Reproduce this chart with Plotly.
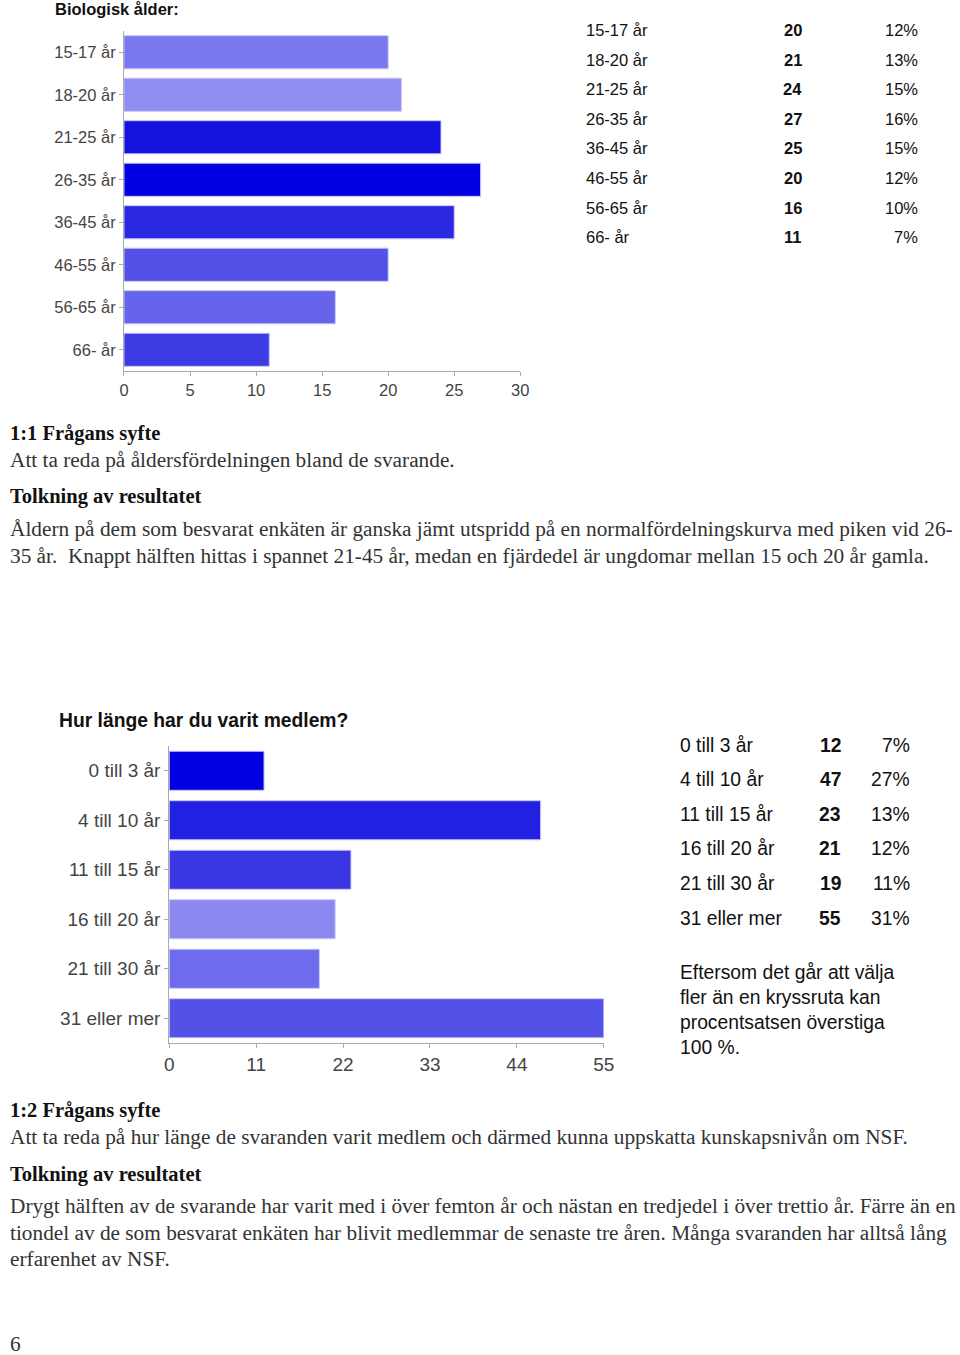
import plotly.graph_objects as go

W, H = 960, 1355

# ---------------- data ----------------
age_labels = ["15-17 år", "18-20 år", "21-25 år", "26-35 år", "36-45 år", "46-55 år", "56-65 år", "66- år"]
age_counts = [20, 21, 24, 27, 25, 20, 16, 11]
age_pct = ["12%", "13%", "15%", "16%", "15%", "12%", "10%", "7%"]
age_colors = ["#7a78ee", "#8f8cf2", "#1512e0", "#0000e0", "#2b28e2", "#5250e6", "#6664ea", "#3d3be4"]
age_ticks = [0, 5, 10, 15, 20, 25, 30]

mem_labels = ["0 till 3 år", "4 till 10 år", "11 till 15 år", "16 till 20 år", "21 till 30 år", "31 eller mer"]
mem_counts = [12, 47, 23, 21, 19, 55]
mem_pct = ["7%", "27%", "13%", "12%", "11%", "31%"]
mem_colors = ["#0000e0", "#2220e2", "#3937e4", "#8b88f0", "#6e6cec", "#5452e6"]
mem_ticks = [0, 11, 22, 33, 44, 55]


def fx(p):
    return p / W


def fy(p):
    return 1 - p / H


SANS = "Liberation Sans, Arial, sans-serif"
SERIF = "Liberation Serif, Times New Roman, serif"

fig = go.Figure()

fig.add_trace(go.Bar(
    y=age_labels, x=age_counts, orientation="h", width=0.78,
    marker=dict(color=age_colors, line=dict(color="#c9c8f7", width=1)),
    xaxis="x", yaxis="y", showlegend=False, hoverinfo="x+y"))

fig.add_trace(go.Bar(
    y=mem_labels, x=mem_counts, orientation="h", width=0.79,
    marker=dict(color=mem_colors, line=dict(color="#c9c8f7", width=1)),
    xaxis="x2", yaxis="y2", showlegend=False, hoverinfo="x+y"))

axis_common = dict(showline=True, linecolor="#aaaaaa", linewidth=1, ticks="outside",
                   ticklen=4, tickcolor="#aaaaaa", showgrid=False, zeroline=False)

layout = dict(
    width=W, height=H, autosize=False,
    margin=dict(l=0, r=0, t=0, b=0),
    paper_bgcolor="white", plot_bgcolor="white",
    xaxis=dict(domain=[fx(121), fx(524)], range=[0, 30], tickvals=age_ticks,
               anchor="y", tickfont=dict(family=SANS, size=16.5, color="#444"), **axis_common),
    yaxis=dict(domain=[fy(371), fy(31)], autorange="reversed", anchor="x",
               tickfont=dict(family=SANS, size=16.5, color="#444"), **axis_common),
    xaxis2=dict(domain=[fx(167), fx(609)], range=[0, 55], tickvals=mem_ticks,
                anchor="y2", tickfont=dict(family=SANS, size=19, color="#444"), **axis_common),
    yaxis2=dict(domain=[fy(1043), fy(746)], autorange="reversed", anchor="x2",
                tickfont=dict(family=SANS, size=19, color="#444"), **axis_common),
    bargap=0.2,
)
fig.update_layout(**layout)

ann = []


def text(x, y, s, size, family=SANS, bold=False, anchor="left", color="#111"):
    if bold:
        s = "<b>" + s + "</b>"
    ann.append(dict(x=fx(x), y=fy(y), xref="paper", yref="paper", text=s, showarrow=False,
                    xanchor=anchor, yanchor="middle",
                    font=dict(family=family, size=size, color=color)))


# chart titles
text(49, 9, "Biologisk ålder:", 16.5, bold=True)
text(53, 720, "Hur länge har du varit medlem?", 19.3, bold=True)

# table 1
row0, pitch = 30, 29.6
for i, (lab, c, p) in enumerate(zip(age_labels, age_counts, age_pct)):
    yy = row0 + i * pitch
    text(589, yy, lab, 16.5)
    text(801, yy, str(c), 16.5, bold=True, anchor="center")
    text(931, yy, p, 16.5, anchor="right")

# table 2
row0, pitch = 745, 34.6
for i, (lab, c, p) in enumerate(zip(mem_labels, mem_counts, mem_pct)):
    yy = row0 + i * pitch
    text(684, yy, lab, 19.3)
    text(839, yy, str(c), 19.3, bold=True, anchor="center")
    text(922, yy, p, 19.3, anchor="right")

note = ["Eftersom det går att välja", "fler än en kryssruta kan", "procentsatsen överstiga", "100 %."]
for i, s in enumerate(note):
    text(684, 972 + i * 25, s, 19.3)

# body text
BODY = 21.3
HEAD = 20.5
text(3, 433, "1:1 Frågans syfte", HEAD, family=SERIF, bold=True)
text(3, 460, "Att ta reda på åldersfördelningen bland de svarande.", BODY, family=SERIF, color="#333")
text(3, 497, "Tolkning av resultatet", HEAD, family=SERIF, bold=True)
text(3, 529, "Åldern på dem som besvarat enkäten är ganska jämt utspridd på en normalfördelningskurva med piken vid 26-", BODY, family=SERIF, color="#333")
text(3, 556, "35 år.  Knappt hälften hittas i spannet 21-45 år, medan en fjärdedel är ungdomar mellan 15 och 20 år gamla.", BODY, family=SERIF, color="#333")

text(3, 1110, "1:2 Frågans syfte", HEAD, family=SERIF, bold=True)
text(3, 1137, "Att ta reda på hur länge de svaranden varit medlem och därmed kunna uppskatta kunskapsnivån om NSF.", BODY, family=SERIF, color="#333")
text(3, 1174, "Tolkning av resultatet", HEAD, family=SERIF, bold=True)
text(3, 1206, "Drygt hälften av de svarande har varit med i över femton år och nästan en tredjedel i över trettio år. Färre än en", BODY, family=SERIF, color="#333")
text(3, 1233, "tiondel av de som besvarat enkäten har blivit medlemmar de senaste tre åren. Många svaranden har alltså lång", BODY, family=SERIF, color="#333")
text(3, 1259, "erfarenhet av NSF.", BODY, family=SERIF, color="#333")
text(3, 1344, "6", BODY, family=SERIF, color="#333")

fig.update_layout(annotations=ann)
fig.write_html("out.html", config={"responsive": False})
